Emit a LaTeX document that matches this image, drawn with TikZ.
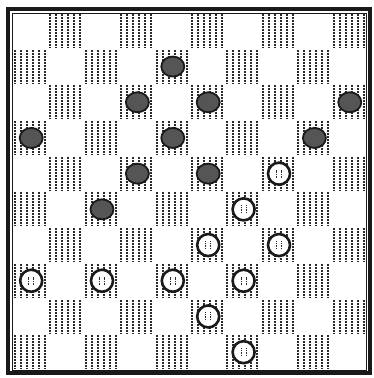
\documentclass[tikz,border=0pt]{standalone}
\usepackage{xcolor}
\definecolor{inkblack}{HTML}{1A1A1A}
\definecolor{hatchgray}{HTML}{2A2A2A}
\definecolor{mangray}{HTML}{555555}
\usetikzlibrary{shapes.geometric}

\begin{document}
\begin{tikzpicture}[
          x=1pt, y=-1pt,
          hatch/.style = {hatchgray, line width=1.5pt,
                          dash pattern=on 2pt off 1pt},
          blackman/.style = {ellipse, minimum width=23pt, minimum height=20pt,
                             inner sep=0pt, fill=mangray, draw=inkblack,
                             line width=1.8pt},
          whiteman/.style = {circle, minimum size=22pt, inner sep=0pt,
                             fill=white, draw=inkblack, line width=2.6pt,
                             path picture={
                               \draw[hatchgray, line width=1pt, dash pattern=on 1.5pt off 1pt]
                                 ([xshift=-2.5pt,yshift=-4pt]path picture bounding box.center)
                                 -- ++(0,8pt);
                               \draw[hatchgray, line width=1pt, dash pattern=on 1.5pt off 1pt]
                                 ([xshift=2.5pt,yshift=-4pt]path picture bounding box.center)
                                 -- ++(0,8pt);}},
        ]
        \def\sqw{35.4}
        \def\sqh{35.7}
        \useasboundingbox (0,0) rectangle (374,378);
        \fill[white] (0,0) rectangle (374,378);

        %% Dark squares
        \foreach \r in {0,...,9} {
          \pgfmathtruncatemacro\cs{mod(\r+1,2)}
          \foreach \k in {0,...,4} {
            \pgfmathsetmacro\xo{round(12+(\cs+2*\k)*\sqw)}
            \pgfmathsetmacro\yo{round(13+\r*\sqh)}
            \foreach \h in {3,9,...,33} {
              \draw[hatch] (\xo+\h,\yo+1) -- (\xo+\h,\yo+\sqh-1);
            }
          }
        }

        %% Frame
        \draw[inkblack, line width=4pt] (8,8.5) rectangle (369.5,373);
        \draw[inkblack, line width=0.8pt] (12,13) rectangle (366,370);

        %% Black men
        \foreach \r/\c in {2/5, 3/4, 3/6, 3/10, 4/1, 4/5, 4/9, 5/4, 5/6, 6/3}
          \node[blackman] (b\r-\c) at ({12+(\c-0.5)*\sqw+1.5}, {13+(\r-0.5)*\sqh}) {};

        %% White men
        \foreach \r/\c in {5/8, 6/7, 7/6, 7/8, 8/1, 8/3, 8/5, 8/7, 9/6, 10/7}
          \node[whiteman] (w\r-\c) at ({12+(\c-0.5)*\sqw+1.5}, {13+(\r-0.5)*\sqh}) {};
      \end{tikzpicture}
\end{document}
